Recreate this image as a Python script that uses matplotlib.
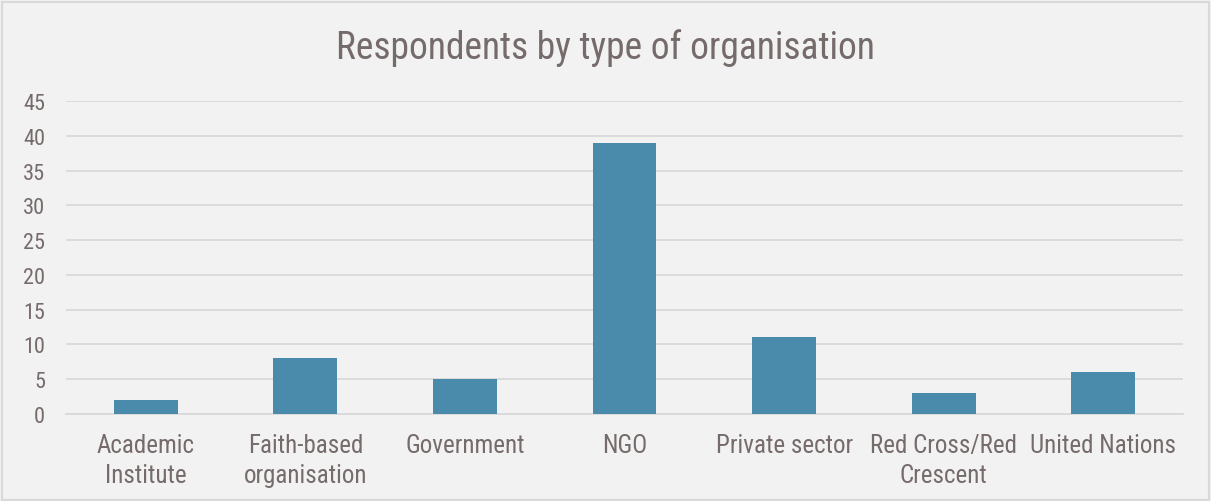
import matplotlib
matplotlib.use("Agg")
import matplotlib.pyplot as plt
from matplotlib import font_manager
from matplotlib.patches import Rectangle

# organisation types and respondent counts
categories = ["Academic\nInstitute", "Faith-based\norganisation", "Government",
              "NGO", "Private sector", "Red Cross/Red\nCrescent", "United Nations"]
counts = [2, 8, 5, 39, 11, 3, 6]
yticks = [0, 5, 10, 15, 20, 25, 30, 35, 40, 45]

names = {f.name for f in font_manager.fontManager.ttflist}
family = "Roboto Condensed" if "Roboto Condensed" in names else "Roboto"
plt.rcParams["font.family"] = [family, "DejaVu Sans"]

textColor = "#766b6b"
barColor = "#4a8bab"
gridColor = "#d9d9d9"
bg = "#f2f2f2"

fig = plt.figure(figsize=(12.11, 5.02), dpi=100, facecolor=bg)
ax = fig.add_axes([0.0545, 0.1733, 0.9224, 0.6235])
ax.set_facecolor(bg)

x = range(len(categories))
ax.bar(x, counts, width=0.4, color=barColor, zorder=3)

ax.set_xlim(-0.5, len(categories) - 0.5)
ax.set_ylim(0, 45)
ax.set_yticks(yticks)
ax.set_xticks(list(x))
ax.set_xticklabels(categories, fontsize=18, color=textColor, linespacing=1.3)
ax.tick_params(axis="y", labelsize=16, labelcolor=textColor, length=0, pad=15)
ax.tick_params(axis="x", length=0, pad=14)
ax.yaxis.grid(True, color=gridColor, linewidth=1.3, zorder=0)
for s in ["top", "right", "left"]:
    ax.spines[s].set_visible(False)
ax.spines["bottom"].set_color(gridColor)
ax.spines["bottom"].set_linewidth(1.3)

fig.text(0.5, 0.904, "Respondents by type of organisation", ha="center",
         va="center", fontsize=27, color=textColor)

# thin frame around the chart area
fig.patches.append(Rectangle((0.002, 0.002), 0.996, 0.993, transform=fig.transFigure,
                             fill=False, edgecolor="#d9d9d9", linewidth=1.5))

fig.savefig("out.png", dpi=100, facecolor=bg)
